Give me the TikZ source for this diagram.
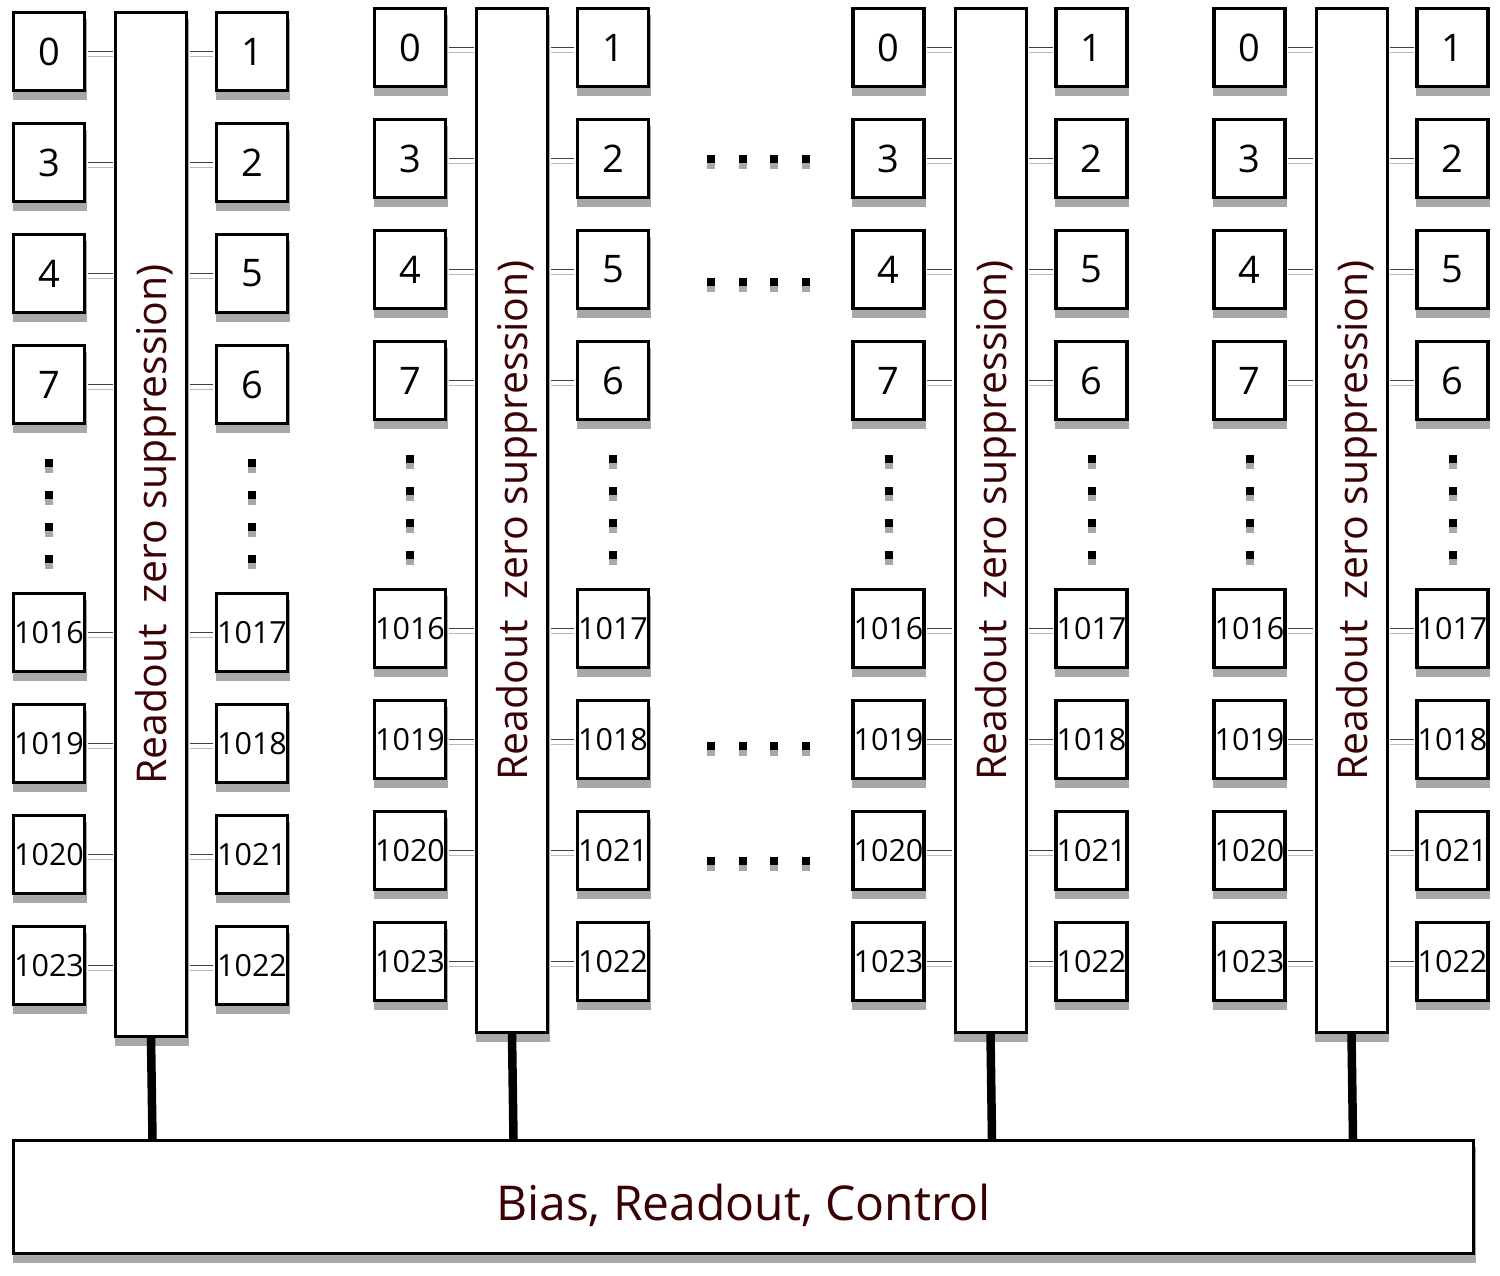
\documentclass[tikz,border=0pt]{standalone}
\usepackage{fontspec}
\setmainfont{Open Sans}
\usetikzlibrary{shadows,calc}
\definecolor{txt}{RGB}{58,0,4}
\definecolor{shd}{RGB}{168,168,168}
\tikzset{
  boxshadow/.style={general shadow={shadow xshift=0.5pt, shadow yshift=-8pt, fill=shd, draw=shd, line width=3pt}},
  cell/.style={draw=black, line width=3.2pt, fill=white, minimum width=71pt, minimum height=78pt, inner sep=0pt, boxshadow, font=\fontsize{38}{42}\selectfont},
  smallcell/.style={cell, font=\fontsize{30.5}{34}\selectfont},
  bar/.style={draw=black, line width=3pt, fill=white, minimum width=71pt, minimum height=1024pt, inner sep=0pt, boxshadow},
  bartext/.style={text=txt, inner sep=0pt, font=\fontsize{41}{44}\selectfont},
  biasbox/.style={draw=black, line width=3pt, fill=white, minimum width=1460pt, minimum height=113pt, inner sep=0pt, boxshadow},
  biastext/.style={text=txt, inner sep=0pt, font=\fontsize{48}{52}\selectfont},
  dotsq/.style={fill=black, minimum size=8pt, inner sep=0pt, general shadow={shadow yshift=-6pt, fill=shd}},
  connA/.style={draw=black!75, line width=1pt, shorten <=1.5pt, shorten >=1.5pt},
  connB/.style={draw=black!28, line width=1.3pt, shorten <=1.5pt, shorten >=1.5pt},
  link/.style={draw=black, line width=8.5pt}
}
\begin{document}
\begin{tikzpicture}[x=1pt,y=-1pt]
\useasboundingbox (0,0) rectangle (1500,1276);
% bias box
\node[biasbox] (bias) at (743.5,1197) {};
\node[biastext] (biasT) at (743.5,1205) {Bias, Readout, Control};
\foreach \c/\lx/\dy in {1/49/4, 2/410/0, 3/888.5/0, 4/1249.5/0} {
  \pgfmathsetmacro{\bx}{\lx+102}
  \pgfmathsetmacro{\rx}{\lx+203}
  \pgfmathsetmacro{\by}{520.5+\dy}
  \node[bar] (B\c) at (\bx,\by) {};
  \node[bartext, rotate=90] (T\c) at ([xshift=5pt]B\c.center) {Readout\ \ zero suppression)};
  \draw[link] (B\c.south) -- ([xshift=1.5pt]B\c.south |- bias.north);
  \foreach \i/\a/\b/\ry in {1/0/1/47.5, 2/3/2/158.5, 3/4/5/269.5, 4/7/6/380.5} {
    \pgfmathsetmacro{\yy}{\ry+\dy}
    \node[cell] (L\c-\i) at (\lx,\yy) {\a};
    \node[cell] (R\c-\i) at (\rx,\yy) {\b};
  }
  \foreach \i/\a/\b/\ry in {5/1016/1017/628.5, 6/1019/1018/739.5, 7/1020/1021/850.5, 8/1023/1022/961.5} {
    \pgfmathsetmacro{\yy}{\ry+\dy}
    \node[smallcell] (L\c-\i) at (\lx,\yy) {\a};
    \node[smallcell] (R\c-\i) at (\rx,\yy) {\b};
  }
  \foreach \i in {1,...,8} {
    \draw[connA] (L\c-\i.east) -- (L\c-\i.east -| B\c.west);
    \draw[connB] ([yshift=-5pt]L\c-\i.east) -- ([yshift=-5pt]L\c-\i.east -| B\c.west);
    \draw[connA] (R\c-\i.west) -- (R\c-\i.west -| B\c.east);
    \draw[connB] ([yshift=-5pt]R\c-\i.west) -- ([yshift=-5pt]R\c-\i.west -| B\c.east);
  }
  \foreach \k in {0,1,2,3} {
    \pgfmathsetmacro{\dyy}{459+32*\k+\dy}
    \node[dotsq] (VL\c-\k) at (\lx,\dyy) {};
    \node[dotsq] (VR\c-\k) at (\rx,\dyy) {};
  }
}
% horizontal dots between columns 2 and 3
\foreach \r/\hy in {1/159, 2/282, 3/745.5, 4/861} {
  \foreach \k/\hx in {1/711, 2/742.5, 3/774, 4/805.5} {
    \node[dotsq] (H\r-\k) at (\hx,\hy) {};
  }
}
\end{tikzpicture}
\end{document}
